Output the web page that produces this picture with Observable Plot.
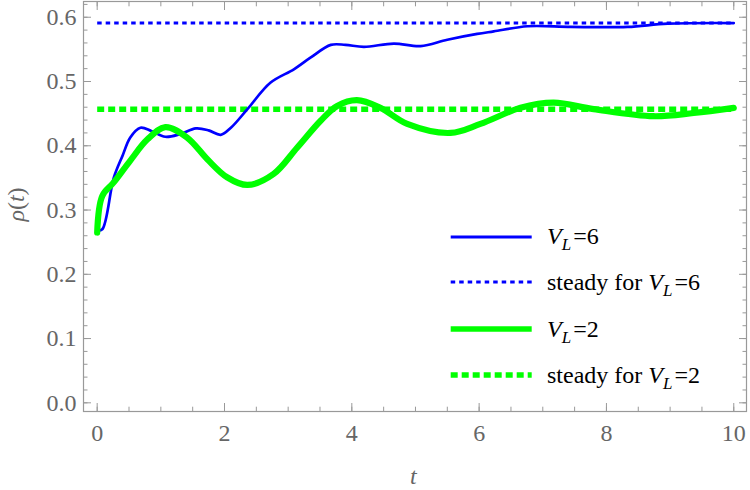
<!DOCTYPE html>
<html>
<head>
<meta charset="utf-8">
<script src="https://cdn.jsdelivr.net/npm/d3@7"></script>
<script src="https://cdn.jsdelivr.net/npm/@observablehq/plot@0.6"></script>
<style>
  body { margin: 0; background: white; font-family: 'Liberation Serif', 'Times New Roman', 'DejaVu Serif', serif; }
  svg text { font-family: 'Liberation Serif', 'Times New Roman', 'DejaVu Serif', serif; }
  .leg svg { width: 82px; height: 10px; margin-right: 15px; }
  .leg sub { font-size: 17px; vertical-align: -6px; line-height: 0; }
</style>
</head>
<body>
<div id="wrap" style="position:relative;width:750px;height:490px;font-family:'Liberation Serif','Times New Roman',serif"></div>
<script>
// Data
const tBlue = [0, 0.08, 0.26, 0.4, 0.52, 0.68, 0.85, 1.07, 1.3, 1.55, 1.75, 1.94, 2.1, 2.36, 2.72, 3.09, 3.35, 3.67, 3.9, 4.19, 4.66, 5.08, 5.5, 5.97, 6.23, 6.76, 7.44, 8.33, 8.96, 10];
const rhoBlue = [0.268, 0.27, 0.35, 0.385, 0.413, 0.428, 0.423, 0.414, 0.418, 0.427, 0.424, 0.417, 0.428, 0.457, 0.498, 0.519, 0.537, 0.557, 0.557, 0.554, 0.559, 0.555, 0.565, 0.574, 0.578, 0.586, 0.585, 0.585, 0.59, 0.591];
const tGreen = [0, 0.08, 0.26, 0.52, 0.79, 1.07, 1.41, 1.73, 2.04, 2.36, 2.77, 3.14, 3.51, 3.77, 4.08, 4.45, 4.87, 5.55, 6.02, 6.65, 7.17, 7.8, 8.74, 9.37, 10];
const rhoGreen = [0.265, 0.322, 0.343, 0.377, 0.41, 0.429, 0.413, 0.379, 0.351, 0.339, 0.356, 0.397, 0.439, 0.462, 0.471, 0.459, 0.434, 0.42, 0.434, 0.459, 0.467, 0.457, 0.446, 0.451, 0.459];
const steadyBlue = 0.591;
const steadyGreen = 0.457;
const tRange = [0, 10];
const xMajor = [0, 2, 4, 6, 8, 10];
const xMinor = d3.range(0, 10.01, 0.5);
const yMajor = [0, 0.1, 0.2, 0.3, 0.4, 0.5, 0.6];
const yMinor = d3.range(0, 0.621, 0.02);
const legendLabels = ["<i>V</i><sub><i>L</i></sub>\u200a=6", "steady for <i>V</i><sub><i>L</i></sub>\u200a=6", "<i>V</i><sub><i>L</i></sub>\u200a=2", "steady for <i>V</i><sub><i>L</i></sub>\u200a=2"];

const blue = tBlue.map((t, i) => ({t, rho: rhoBlue[i]}));
const green = tGreen.map((t, i) => ({t, rho: rhoGreen[i]}));
const sB = tRange.map(t => ({t, rho: steadyBlue}));
const sG = tRange.map(t => ({t, rho: steadyGreen}));

const axisCol = "#999";
const SERIF = "'Liberation Serif', 'Times New Roman', 'DejaVu Serif', serif";
const chart = Plot.plot({
  width: 750, height: 490,
  marginLeft: 83, marginRight: 4, marginTop: 1, marginBottom: 79,
  x: {domain: [-0.215, 10.2]},
  y: {domain: [-0.0135, 0.6245]},
  style: {fontFamily: SERIF, fontSize: "24px", color: "#666", background: "white"},
  marks: [
    // minor ticks
    Plot.axisX({anchor: "bottom", ticks: xMinor, tickSize: -4.3, tickFormat: () => "", label: null, stroke: axisCol}),
    Plot.axisX({anchor: "top", ticks: xMinor, tickSize: -4.3, tickFormat: () => "", label: null, stroke: axisCol}),
    Plot.axisY({anchor: "left", ticks: yMinor, tickSize: -4.5, tickFormat: () => "", label: null, stroke: axisCol}),
    Plot.axisY({anchor: "right", ticks: yMinor, tickSize: -4.5, tickFormat: () => "", label: null, stroke: axisCol}),
    // major ticks
    Plot.axisX({anchor: "bottom", ticks: xMajor, tickSize: -8, tickFormat: () => "", label: null, stroke: axisCol}),
    Plot.axisX({anchor: "top", ticks: xMajor, tickSize: -8, tickFormat: () => "", label: null, stroke: axisCol}),
    Plot.axisY({anchor: "left", ticks: yMajor, tickSize: -8, tickFormat: () => "", label: null, stroke: axisCol}),
    Plot.axisY({anchor: "right", ticks: yMajor, tickSize: -8, tickFormat: () => "", label: null, stroke: axisCol}),
    // labels
    Plot.axisX({anchor: "bottom", ticks: xMajor, tickSize: 0, tickPadding: 12, tickFormat: d => String(d), label: null, fill: "#666"}),
    Plot.axisY({anchor: "left", ticks: yMajor, tickSize: 0, tickPadding: 7, tickFormat: d3.format(".1f"), label: null, fill: "#666"}),
    Plot.frame({stroke: axisCol, strokeWidth: 1.2}),
    // data
    Plot.line(sB, {x: "t", y: "rho", stroke: "#0000ff", strokeWidth: 3, strokeDasharray: "4.5,4", strokeLinecap: "butt"}),
    Plot.line(sG, {x: "t", y: "rho", stroke: "#00ff00", strokeWidth: 5.5, strokeDasharray: "7,4", strokeLinecap: "butt"}),
    Plot.line(blue, {x: "t", y: "rho", stroke: "#0000ff", strokeWidth: 2.7, curve: "catmull-rom"}),
    Plot.line(green, {x: "t", y: "rho", stroke: "#00ff00", strokeWidth: 6.2, curve: "catmull-rom"})
  ]
});
const wrap = document.getElementById("wrap");
wrap.appendChild(chart);

const labStyle = `position:absolute;color:#666;font-family:${SERIF};font-size:24px;font-style:italic;white-space:nowrap;`;
// axis titles
const xl = document.createElement("div");
xl.setAttribute("style", labStyle + "left:410px;top:463px;");
xl.textContent = "t";
wrap.appendChild(xl);
const yl = document.createElement("div");
yl.setAttribute("style", labStyle + "left:-1px;top:191px;transform:rotate(-90deg);");
yl.innerHTML = "<i>ρ</i><span style='font-style:normal'>(</span><i>t</i><span style='font-style:normal'>)</span>";
wrap.appendChild(yl);

// legend
const legStyles = [
  {c: "#0000ff", w: 3, d: null},
  {c: "#0000ff", w: 3, d: "4.5,4"},
  {c: "#00ff00", w: 5.5, d: null},
  {c: "#00ff00", w: 5.5, d: "7,4"}
];
const legY = [236.7, 282.3, 329, 375];
legendLabels.forEach((lab, i) => {
  const s = legStyles[i];
  const div = document.createElement("div");
  div.className = "leg";
  div.setAttribute("style", `position:absolute;left:450px;top:${legY[i] - 15}px;height:30px;display:flex;align-items:center;font-family:${SERIF};font-size:24px;color:#000;white-space:nowrap;`);
  div.innerHTML = `<svg viewBox="0 0 82 10"><line x1="0.7" x2="81.7" y1="5" y2="5" stroke="${s.c}" stroke-width="${s.w}" ${s.d ? `stroke-dasharray="${s.d}"` : ""}/></svg><span>${lab}</span>`;
  wrap.appendChild(div);
});
</script>
</body>
</html>
